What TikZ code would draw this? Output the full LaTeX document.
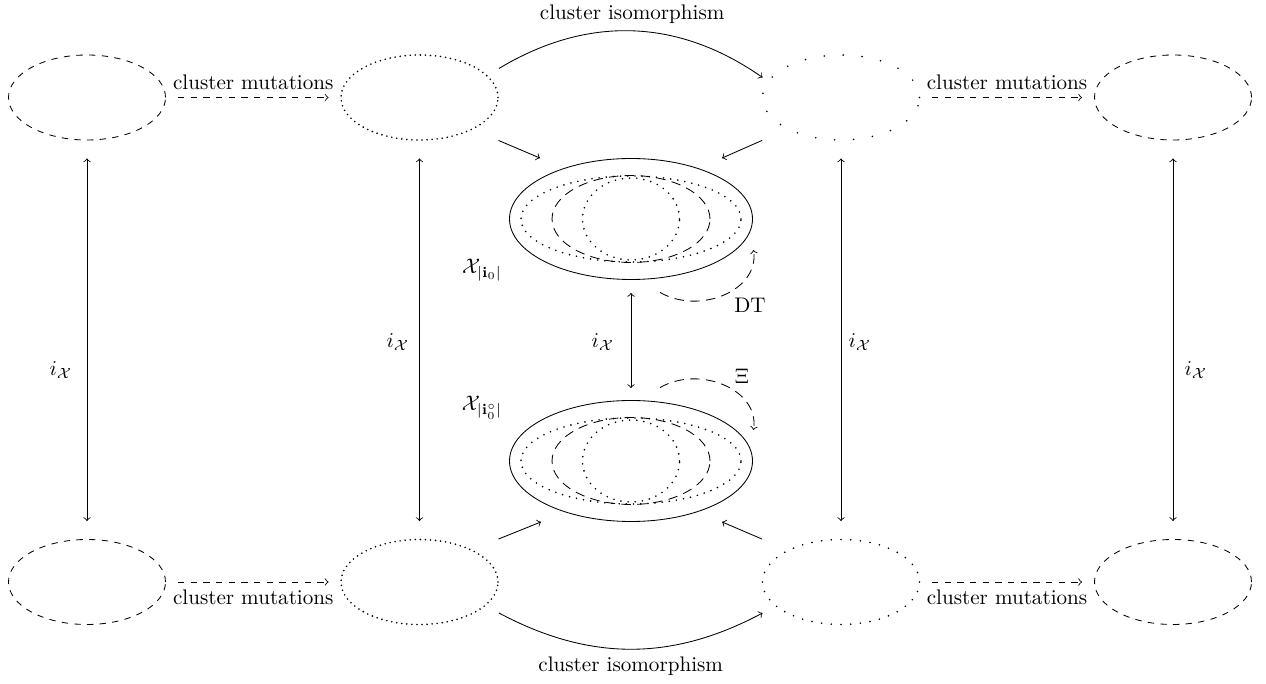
\documentclass[tikz,border=0pt]{standalone}
\usetikzlibrary{calc}
\begin{document}
\begin{tikzpicture}[x=0.4736pt,y=-0.4736pt,
  box/.style={rectangle,inner sep=0pt,minimum width=74.36pt,minimum height=40.26pt},
  bigbox/.style={rectangle,inner sep=0pt,minimum width=115.08pt,minimum height=57.3pt},
  dots/.style={line width=0.85pt,line cap=round,dash pattern=on 0pt off 2.4pt},
  ldots/.style={line width=0.85pt,line cap=round,dash pattern=on 0pt off 4.6pt},
  sparse/.style={line width=0.85pt,line cap=round,dash pattern=on 0pt off 9pt},
  cdots/.style={line width=0.85pt,line cap=round,dash pattern=on 0pt off 3.4pt},
  cdash/.style={dash pattern=on 4.5pt off 3pt},
  small/.style={x radius=37.18pt, y radius=20.13pt},
]
\useasboundingbox (0,0) rectangle (1266,684);
% nodes
\node[box] (a1) at (87,97.5) {};
\node[box] (a2) at (419.5,97.5) {};
\node[box] (a3) at (841,97.5) {};
\node[box] (a4) at (1173,97.5) {};
\node[box] (b1) at (87,582) {};
\node[box] (b2) at (419.5,582) {};
\node[box] (b3) at (841,582) {};
\node[box] (b4) at (1173,582) {};
\node[bigbox] (X1) at (631,219) {};
\node[bigbox] (X2) at (631,461) {};
% outer ellipses
\draw[dashed] (a1.center) ellipse [small];
\draw[dots] (a2.center) ellipse [small];
\draw[sparse] (a3.center) ellipse [small];
\draw[dashed] (a4.center) ellipse [small];
\draw[dashed] (b1.center) ellipse [small];
\draw[dots] (b2.center) ellipse [small];
\draw[ldots] (b3.center) ellipse [small];
\draw[dashed] (b4.center) ellipse [small];
% central ellipses
\foreach \c in {X1,X2}{
  \draw (\c.center) ellipse [x radius=57.54pt, y radius=28.65pt];
  \draw[cdots] (\c.center) ellipse [x radius=52.1pt, y radius=20.36pt];
  \draw[cdash] (\c.center) ellipse [x radius=37.41pt, y radius=20.6pt];
  \draw[cdots] (\c.center) ellipse [x radius=22.97pt, y radius=19.4pt];
}
% horizontal mutation arrows
\draw[dashed,->] ($(a1.east)+(12,0)$) -- node[above]{cluster mutations} ($(a2.west)+(-12,0)$);
\draw[dashed,->] ($(a3.east)+(12,0)$) -- node[above]{cluster mutations} ($(a4.west)+(-12,0)$);
\draw[dashed,->] ($(b1.east)+(12,0)$) -- node[below]{cluster mutations} ($(b2.west)+(-12,0)$);
\draw[dashed,->] ($(b3.east)+(12,0)$) -- node[below]{cluster mutations} ($(b4.west)+(-12,0)$);
% isomorphisms
\draw[->] ($(a2.east)+(0.5,-29)$) to[bend left=33] node[above]{cluster isomorphism} ($(a3.west)+(0.5,-20)$);
\draw[->] ($(b2.east)+(0.5,31)$) to[bend right=28] node[below]{cluster isomorphism} ($(b3.west)+(0.5,31)$);
% vertical arrows
\draw[<->] ($(a1.south)+(0,18)$) -- ($(b1.north)+(0,-18)$);
\draw[<->] ($(a2.south)+(0,18)$) -- ($(b2.north)+(0,-18)$);
\draw[<->] ($(a3.south)+(0,18)$) -- ($(b3.north)+(0,-18)$);
\draw[<->] ($(a4.south)+(0,18)$) -- ($(b4.north)+(0,-18)$);
\draw[<->] ($(X1.south)+(0,13)$) -- ($(X2.north)+(0,-12)$);
\node (i1) at (61,370) {$i_{\mathcal{X}}$};
\node (i2) at (398,342) {$i_{\mathcal{X}}$};
\node (i3) at (603,342) {$i_{\mathcal{X}}$};
\node (i4) at (860,342) {$i_{\mathcal{X}}$};
\node (i5) at (1196,370) {$i_{\mathcal{X}}$};
% diagonal arrows
\draw[->] (a2.south east) -- ($(X1.north)+(-91,0)$);
\draw[->] (a3.south west) -- ($(X1.north)+(91,0)$);
\draw[->] (b2.north east) -- ($(X2.south)+(-90,0)$);
\draw[->] (b3.north west) -- ($(X2.south)+(91,0)$);
% labels
\node (L1) at (482,270) {$\mathcal{X}_{|\mathbf{i}_0|}$};
\node (L2) at (482,408) {$\mathcal{X}_{|\mathbf{i}_0^\circ|}$};
% loops
\draw[cdash,->] ($(X1.south)+(29,12.5)$) .. controls ($(X1.south)+(69,35.5)$) and ($(X1.east)+(7,71)$) .. ($(X1.east)+(0.5,31)$);
\draw[cdash,->] ($(X2.north)+(29,-12.5)$) .. controls ($(X2.north)+(69,-35.5)$) and ($(X2.east)+(7,-71)$) .. ($(X2.east)+(0.5,-31)$);
\node (dt) at (750,305) {DT};
\node (xi) at (742,376) {$\Xi$};
\end{tikzpicture}
\end{document}
